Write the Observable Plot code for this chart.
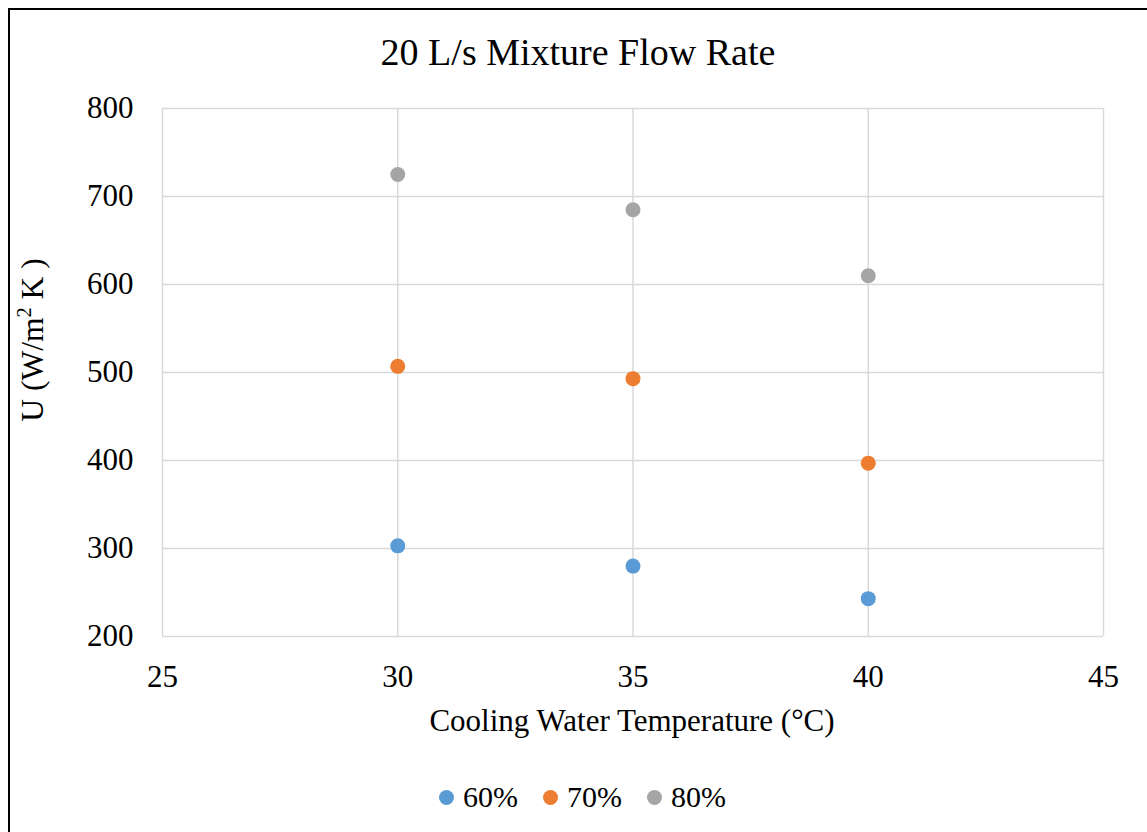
<!DOCTYPE html>
<html><head><meta charset="utf-8">
<script src="https://cdn.jsdelivr.net/npm/d3@7"></script>
<script src="https://cdn.jsdelivr.net/npm/@observablehq/plot@0.6"></script>
<style>
body{margin:0;background:#fff;}
#wrap{position:relative;width:1147px;height:832px;overflow:hidden;font-family:"Liberation Serif","Times New Roman",serif;color:#000;background:#fff;}
#wrap *{font-family:"Liberation Serif","Times New Roman",serif !important;}
#frame{position:absolute;left:8px;top:8px;width:1300px;height:1000px;border-left:2px solid #000;border-top:2px solid #000;box-sizing:border-box;}
#chart{position:absolute;left:0;top:0;}
#chart svg{overflow:visible;}
#title{position:absolute;left:0;width:1156px;top:33px;text-align:center;font-size:38px;line-height:38px;white-space:nowrap;}
#xlabel{position:absolute;left:0;width:1264px;top:705px;text-align:center;font-size:31px;line-height:31px;white-space:nowrap;}
#ylabel{position:absolute;left:32px;top:340px;transform:translate(-50%,-50%) rotate(-90deg);font-size:31.5px;line-height:31px;white-space:nowrap;}
#ylabel sup{font-size:65%;line-height:0;vertical-align:0.55em;}
#legend{position:absolute;left:439px;top:782px;display:flex;align-items:center;height:30px;font-size:30px;line-height:30px;white-space:nowrap;}
.item{display:flex;align-items:center;margin-right:25px;}
.sw{width:15px;height:15px;border-radius:50%;margin-right:9px;}
</style>
</head><body>
<div id="wrap">
  <div id="frame"></div>
  <div id="chart"></div>
  <div id="title">20 L/s Mixture Flow Rate</div>
  <div id="xlabel">Cooling Water Temperature (°C)</div>
  <div id="ylabel">U (W/m<sup>2</sup> K )</div>
  <div id="legend"></div>
</div>
<script>
const temps = [30, 35, 40];
const u60 = [303, 280, 243];
const u70 = [507, 493, 397];
const u80 = [725, 685, 610];
const seriesNames = ["60%", "70%", "80%"];
const seriesColors = ["#5b9bd5", "#ed7d31", "#a5a5a5"];
const xTicks = [25, 30, 35, 40, 45];
const yTicks = [200, 300, 400, 500, 600, 700, 800];

const seriesValues = [u60, u70, u80];
const data = [];
seriesNames.forEach((s, i) => {
  temps.forEach((t, j) => data.push({s, t, u: seriesValues[i][j]}));
});

const chart = Plot.plot({
  width: 1147,
  height: 760,
  marginTop: 108,
  marginBottom: 124,
  marginLeft: 162,
  marginRight: 44,
  x: {domain: [25, 45], ticks: xTicks, label: null},
  y: {domain: [200, 800], ticks: yTicks, label: null},
  color: {domain: seriesNames, range: seriesColors},
  style: {fontFamily: "Liberation Serif, serif", fontSize: "31px", background: "transparent", color: "#000", overflow: "visible"},
  marks: [
    Plot.ruleY(yTicks, {stroke: "#d9d9d9", strokeWidth: 1.5}),
    Plot.ruleX(xTicks, {stroke: "#d9d9d9", strokeWidth: 1.5}),
    Plot.axisX({ticks: xTicks, tickSize: 0, tickPadding: 28, label: null, fontSize: 31}),
    Plot.axisY({ticks: yTicks, tickSize: 0, tickPadding: 29, label: null, fontSize: 31}),
    Plot.dot(data, {x: "t", y: "u", fill: "s", r: 7.5})
  ]
});
document.getElementById("chart").appendChild(chart);

const legend = document.getElementById("legend");
seriesNames.forEach((name, i) => {
  const item = document.createElement("div");
  item.className = "item";
  const sw = document.createElement("div");
  sw.className = "sw";
  sw.style.background = seriesColors[i];
  const label = document.createElement("span");
  label.textContent = name;
  item.appendChild(sw);
  item.appendChild(label);
  legend.appendChild(item);
});
</script>
</body></html>
